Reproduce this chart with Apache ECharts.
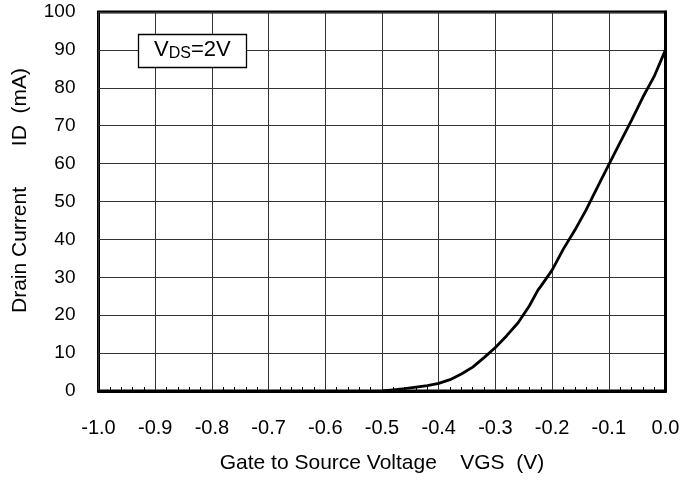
<!DOCTYPE html>
<html><head><meta charset="utf-8">
<script src="https://cdn.jsdelivr.net/npm/echarts@6/dist/echarts.min.js"></script>
<style>html,body{margin:0;padding:0;background:#fff}#c{width:696px;height:484px}</style>
</head><body><div id="c"></div>
<script>
const vgs = [-0.50,-0.48,-0.46,-0.44,-0.42,-0.40,-0.38,-0.36,-0.34,-0.32,-0.30,-0.28,-0.26,-0.24,-0.225,-0.22,-0.20,-0.18,-0.16,-0.14,-0.12,-0.10,-0.08,-0.06,-0.04,-0.02,0.00];
const idmA = [0.0,0.3,0.6,1.0,1.4,2.0,3.0,4.5,6.3,8.8,11.5,14.6,18.0,22.5,26.6,27.6,31.9,37.5,42.4,47.8,53.8,59.7,65.6,71.4,77.5,83.0,90.0];
const xTicks = ['-1.0','-0.9','-0.8','-0.7','-0.6','-0.5','-0.4','-0.3','-0.2','-0.1','0.0'];
const xTitle = 'Gate to Source Voltage    VGS  (V)';
const yTitle = 'Drain Current       ID  (mA)';
const F = 'Liberation Sans, Arial, sans-serif';
const chart = echarts.init(document.getElementById('c'));
chart.setOption({
  animation: false,
  title: {
    text: '{a|V}{b|DS}{a|=2V}',
    left: 138, top: 33,
    padding: [5, 16, 6, 16],
    borderColor: '#000', borderWidth: 1.3, backgroundColor: '#fff',
    textStyle: { fontWeight: 'normal', rich: {
      a: { fontFamily: F, fontSize: 22, fontWeight: 'normal', color: '#000', lineHeight: 24 },
      b: { fontFamily: F, fontSize: 16, fontWeight: 'normal', color: '#000', lineHeight: 24, verticalAlign: 'bottom' }
    } }
  },
  grid: { left: 98.5, right: 30.5, top: 12, bottom: 93, show: true, borderColor: '#000', borderWidth: 3, backgroundColor: 'transparent' },
  xAxis: {
    type: 'value', min: -1, max: 0, interval: 0.1,
    name: xTitle, nameLocation: 'middle', nameGap: 62,
    nameTextStyle: { fontFamily: F, fontSize: 21, color: '#000' },
    axisLine: { show: true, lineStyle: { color: '#000', width: 3 } },
    axisTick: { show: false, inside: true },
    minorTick: { show: true, splitNumber: 5, length: 4, lineStyle: { color: '#000', width: 1 } },
    splitLine: { show: true, lineStyle: { color: '#333', width: 1 } },
    axisLabel: { fontFamily: F, fontSize: 20, color: '#000', margin: 27,
      formatter: v => xTicks[Math.round((v + 1) * 10)] }
  },
  yAxis: {
    type: 'value', min: 0, max: 100, interval: 10,
    name: yTitle, nameLocation: 'middle', nameGap: 68,
    nameTextStyle: { fontFamily: F, fontSize: 21, color: '#000', padding: [0, 0, 0, 22] },
    axisLine: { show: true, lineStyle: { color: '#000', width: 3 } },
    axisTick: { show: false },
    splitLine: { show: true, lineStyle: { color: '#333', width: 1 } },
    axisLabel: { fontFamily: F, fontSize: 19, color: '#000', margin: 23 }
  },
  series: [{
    type: 'line', data: vgs.map((x, i) => [x, idmA[i]]),
    showSymbol: false, smooth: false,
    lineStyle: { color: '#000', width: 2.8 }
  }]
});
</script></body></html>
